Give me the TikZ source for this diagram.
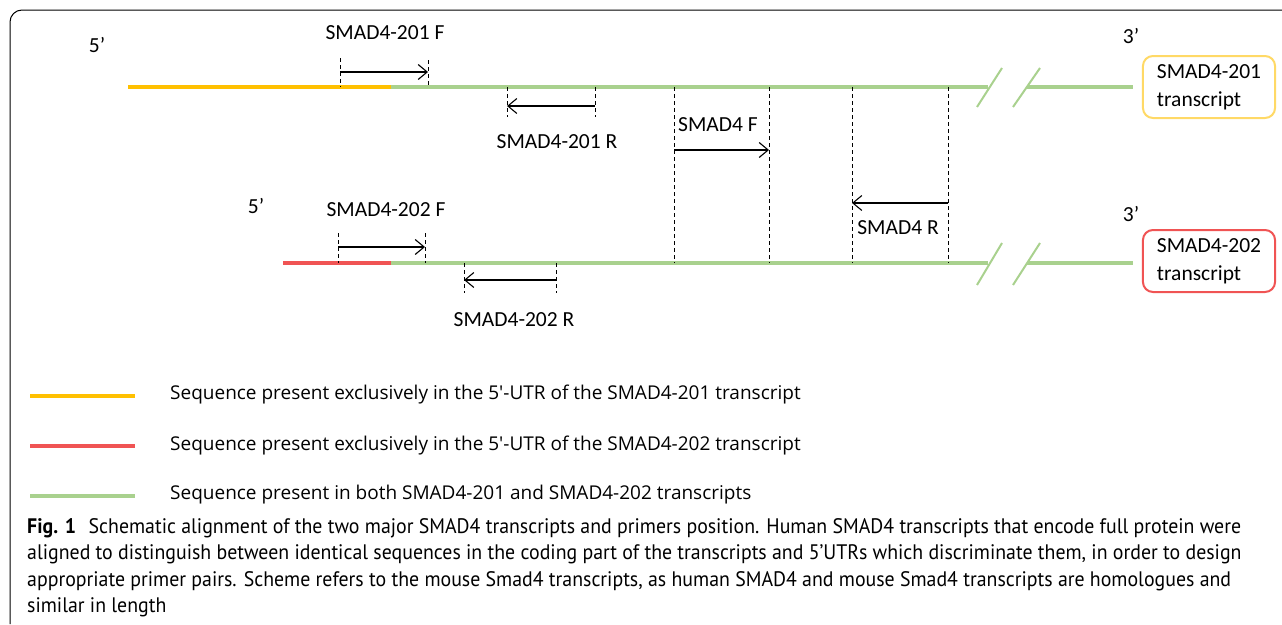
\documentclass[tikz,border=0pt]{standalone}
\usepackage{fontspec}
\usetikzlibrary{arrows.meta}
\setmainfont{Carlito}
\newfontfamily\legfont{Open Sans}
\newfontfamily\capfont[FakeStretch=0.945]{PT Sans}
\definecolor{gr}{HTML}{A9D18E}
\definecolor{orng}{HTML}{FFC000}
\definecolor{rd}{HTML}{F05454}
\definecolor{ylbox}{HTML}{FFD966}
\tikzset{
  seg/.style={line width=4.5pt},
  brk/.style={gr, line width=2pt},
  dashv/.style={line width=0.9pt, dash pattern=on 4pt off 3pt},
  prim/.style={-{Straight Barb[length=9pt,width=15pt]}, line width=1.1pt},
  lbl/.style={font=\fontsize{21.5}{26}\selectfont, inner sep=0pt},
  tbox/.style={rounded corners=10pt, line width=2pt, inner xsep=14pt, inner ysep=4pt,
     minimum width=132pt, minimum height=62pt, align=left, font=\fontsize{21.5}{28}\selectfont},
  legtxt/.style={font=\legfont\fontsize{19}{24}\selectfont, inner sep=0pt, anchor=west},
}
\begin{document}
\begin{tikzpicture}[x=1pt,y=-1pt]
\useasboundingbox (0,0) rectangle (1282,624);
% frame
\draw[line width=1pt, rounded corners=12pt] (1282,10) -- (10,10) -- (10,624);

% ---- transcript 201 ----
\coordinate (a0) at (128,87);
\coordinate (a1) at (391,87);
\coordinate (a2) at (988,87);
\coordinate (a3) at (1027,87);
\coordinate (a4) at (1133,87);
\draw[seg, orng] (a0) -- (a1);
\draw[seg, gr] (a1) -- (a2);
\draw[seg, gr] (a3) -- (a4);
\draw[brk] (977,107) -- (1002,68);
\draw[brk] (1013,107) -- (1040,68);
\node[lbl] (p5a) at (97,45) {5’};
\node[lbl] (p3a) at (1131,36) {3’};
\node[tbox, draw=ylbox] (box1) at (1209,87) {SMAD4-201\\transcript};

% ---- transcript 202 ----
\coordinate (b0) at (283,263);
\coordinate (b1) at (391,263);
\coordinate (b2) at (988,263);
\coordinate (b3) at (1027,263);
\coordinate (b4) at (1133,263);
\draw[seg, rd] (b0) -- (b1);
\draw[seg, gr] (b1) -- (b2);
\draw[seg, gr] (b3) -- (b4);
\draw[brk] (977,285) -- (1002,243);
\draw[brk] (1013,285) -- (1040,243);
\node[lbl] (p5b) at (256,206) {5’};
\node[lbl] (p3b) at (1131,214) {3’};
\node[tbox, draw=rd] (box2) at (1209,261) {SMAD4-202\\transcript};

% ---- primer SMAD4-201 F ----
\coordinate (f1a) at (340,58); \coordinate (f1b) at (340,87);
\coordinate (f1c) at (428,60); \coordinate (f1d) at (428,87);
\draw[dashv] (f1a) -- (f1b);
\draw[dashv] (f1c) -- (f1d);
\coordinate (f1s) at (340,72); \coordinate (f1e) at (428,72);
\draw[prim] (f1s) -- (f1e);
\node[lbl] (lf1) at (385,33) {SMAD4-201 F};

% ---- primer SMAD4-201 R ----
\coordinate (r1a) at (507,87); \coordinate (r1b) at (507,117);
\coordinate (r1c) at (595,87); \coordinate (r1d) at (595,117);
\draw[dashv] (r1a) -- (r1b);
\draw[dashv] (r1c) -- (r1d);
\coordinate (r1s) at (595,106); \coordinate (r1e) at (507,106);
\draw[prim] (r1s) -- (r1e);
\node[lbl] (lr1) at (557,142) {SMAD4-201 R};

% ---- primer SMAD4 F ----
\coordinate (fa) at (674,87); \coordinate (fb) at (674,263);
\coordinate (fc) at (769,87); \coordinate (fd) at (769,263);
\draw[dashv] (fa) -- (fb);
\draw[dashv] (fc) -- (fd);
\coordinate (fs) at (674,150); \coordinate (fe) at (769,150);
\draw[prim] (fs) -- (fe);
\node[lbl] (lf) at (718,125) {SMAD4 F};

% ---- primer SMAD4 R ----
\coordinate (ra) at (852,87); \coordinate (rb) at (852,263);
\coordinate (rc) at (948,87); \coordinate (rd) at (948,263);
\draw[dashv] (ra) -- (rb);
\draw[dashv] (rc) -- (rd);
\coordinate (rs) at (948,203); \coordinate (re) at (852,203);
\draw[prim] (rs) -- (re);
\node[lbl] (lr) at (898,228) {SMAD4 R};

% ---- primer SMAD4-202 F ----
\coordinate (f2a) at (338,233); \coordinate (f2b) at (338,263);
\coordinate (f2c) at (425,233); \coordinate (f2d) at (425,263);
\draw[dashv] (f2a) -- (f2b);
\draw[dashv] (f2c) -- (f2d);
\coordinate (f2s) at (338,247); \coordinate (f2e) at (425,247);
\draw[prim] (f2s) -- (f2e);
\node[lbl] (lf2) at (386,210) {SMAD4-202 F};

% ---- primer SMAD4-202 R ----
\coordinate (r2a) at (464,263); \coordinate (r2b) at (464,293);
\coordinate (r2c) at (556,263); \coordinate (r2d) at (556,293);
\draw[dashv] (r2a) -- (r2b);
\draw[dashv] (r2c) -- (r2d);
\coordinate (r2s) at (556,280); \coordinate (r2e) at (464,280);
\draw[prim] (r2s) -- (r2e);
\node[lbl] (lr2) at (514,320) {SMAD4-202 R};

% ---- legend ----
\coordinate (l1a) at (30,396); \coordinate (l1b) at (135,396);
\coordinate (l2a) at (30,446); \coordinate (l2b) at (135,446);
\coordinate (l3a) at (30,496); \coordinate (l3b) at (135,496);
\draw[seg, orng] (l1a) -- (l1b);
\draw[seg, rd] (l2a) -- (l2b);
\draw[seg, gr] (l3a) -- (l3b);
\node[legtxt] (t1) at (170,395) {Sequence present exclusively in the 5'-UTR of the SMAD4-201 transcript};
\node[legtxt] (t2) at (170,446) {Sequence present exclusively in the 5'-UTR of the SMAD4-202 transcript};
\node[legtxt] (t3) at (170,495) {Sequence present in both SMAD4-201 and SMAD4-202 transcripts};

% ---- caption ----
\node[anchor=north west, inner sep=0pt, align=left, font=\capfont\fontsize{21}{26.5}\selectfont] (cap) at (27,518)
{\textbf{Fig. 1}\hspace{0.6em}Schematic alignment of the two major SMAD4 transcripts and primers position. Human SMAD4 transcripts that encode full protein were\\
aligned to distinguish between identical sequences in the coding part of the transcripts and 5’UTRs which discriminate them, in order to design\\
appropriate primer pairs. Scheme refers to the mouse Smad4 transcripts, as human SMAD4 and mouse Smad4 transcripts are homologues and\\
similar in length};
\end{tikzpicture}
\end{document}
